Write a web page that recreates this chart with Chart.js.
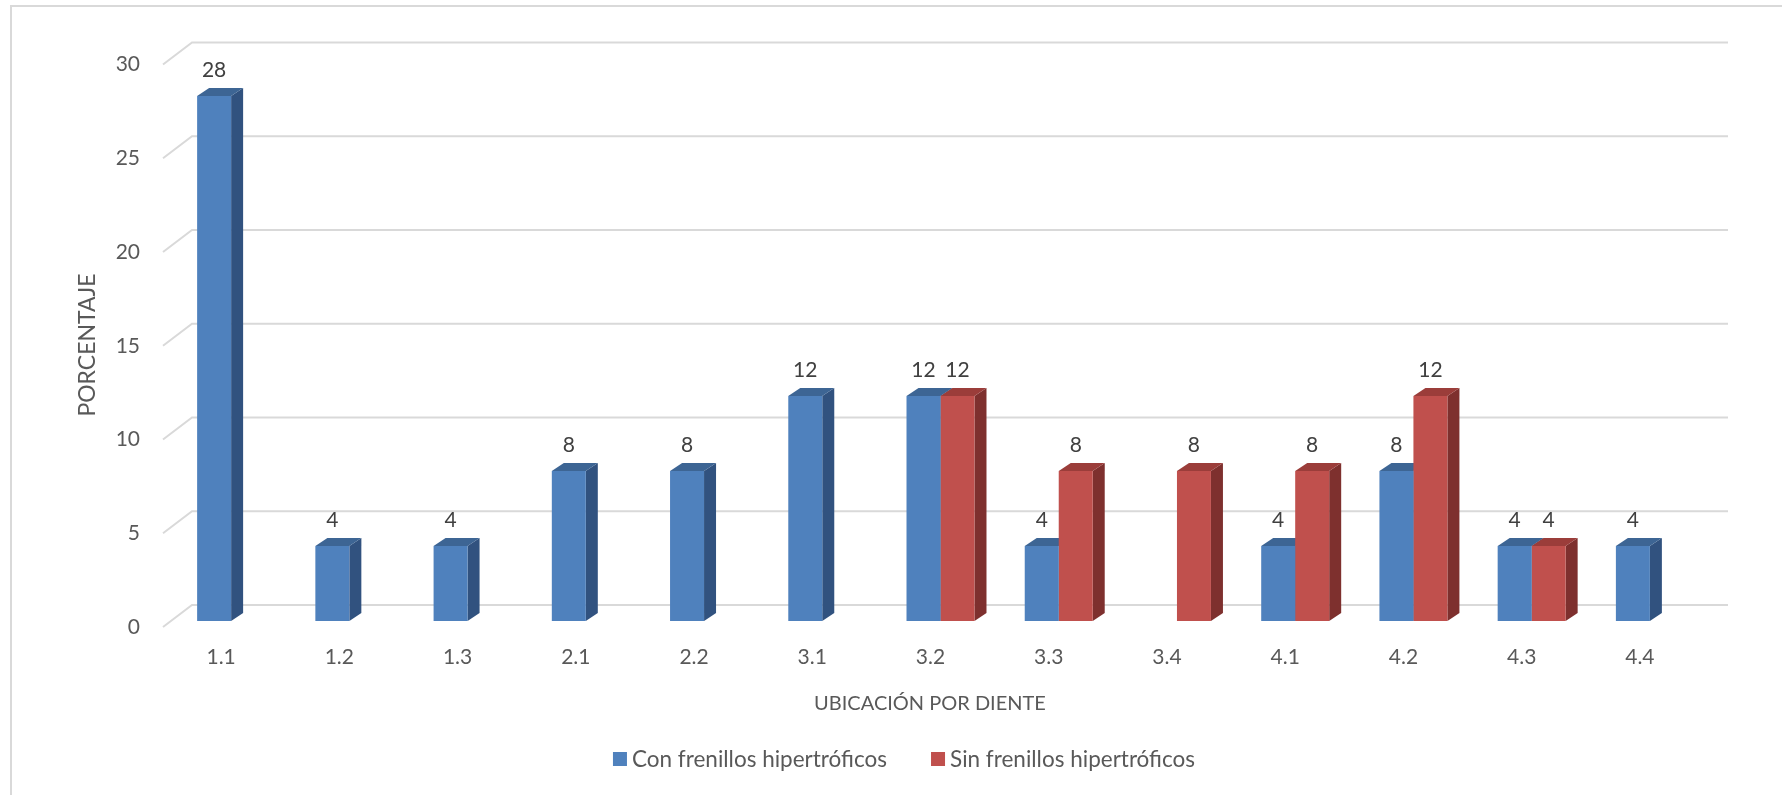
<!DOCTYPE html>
<html>
<head>
<meta charset="utf-8">
<script src="https://cdn.jsdelivr.net/npm/chart.js@4.4.1/dist/chart.umd.min.js"></script>
<style>
  html, body { margin: 0; padding: 0; background: #ffffff; }
  #wrap { width: 1782px; height: 795px; position: relative; }
</style>
</head>
<body>
<div id="wrap"><canvas id="c" width="1782" height="795"></canvas></div>
<script>
// Teeth locations and percentages per group
const categories = ['1.1', '1.2', '1.3', '2.1', '2.2', '3.1', '3.2', '3.3', '3.4', '4.1', '4.2', '4.3', '4.4'];
const conFrenillos = [28, 4, 4, 8, 8, 12, 12, 4, null, 4, 8, 4, 4];
const sinFrenillos = [null, null, null, null, null, null, 12, 8, 8, 8, 12, 4, null];
const yTickValues = [0, 5, 10, 15, 20, 25, 30];
const seriesNames = ['Con frenillos hipertróficos', 'Sin frenillos hipertróficos'];
const xTitle = 'UBICACIÓN POR DIENTE';
const yTitle = 'PORCENTAJE';

// Styling
const FONT = 'Lato, "Open Sans", sans-serif';
const TEXT_AXIS = '#595959';
const TEXT_LABEL = '#404040';
const GRID = '#D9D9D9';
const faces = [
  { front: '#4F81BD', side: '#31527F', top: '#3D6594' },
  { front: '#C0504D', side: '#7E302E', top: '#9B3D3A' }
];
const BAR_DEPTH = { dx: 12, dy: 8 };     // visible depth of each 3D bar
const WALL = { dx: 20, up: 16, frontX: 163, down: 6 }; // back wall / floor edge geometry

const threeD = {
  id: 'threeD',
  beforeDraw(chart) {
    const ctx = chart.ctx;
    ctx.save();
    ctx.strokeStyle = GRID;
    ctx.lineWidth = 2;
    ctx.beginPath();
    ctx.moveTo(11, chart.height);
    ctx.lineTo(11, 6);
    ctx.lineTo(chart.width, 6);
    ctx.stroke();
    ctx.restore();
  },
  beforeDatasetsDraw(chart) {
    const ctx = chart.ctx;
    const ys = chart.scales.y;
    const area = chart.chartArea;
    ctx.save();
    // back wall gridlines and their slanted ends on the side wall
    ctx.strokeStyle = GRID;
    ctx.lineWidth = 2;
    ys.ticks.forEach(t => {
      const y = ys.getPixelForValue(t.value);
      ctx.beginPath();
      ctx.moveTo(WALL.frontX, y + WALL.down);
      ctx.lineTo(area.left + WALL.dx, y - WALL.up);
      ctx.lineTo(area.right + WALL.dx - 1, y - WALL.up);
      ctx.stroke();
    });
    // side and top faces of the bars (front faces come from Chart.js)
    chart.data.datasets.forEach((ds, di) => {
      const meta = chart.getDatasetMeta(di);
      meta.data.forEach((el, i) => {
        if (ds.data[i] === null || ds.data[i] === undefined) return;
        const p = el.getProps(['x', 'y', 'base', 'width'], true);
        const l = p.x - p.width / 2, r = p.x + p.width / 2;
        const dx = BAR_DEPTH.dx, dy = BAR_DEPTH.dy;
        ctx.fillStyle = faces[di].side;
        ctx.beginPath();
        ctx.moveTo(r, p.y);
        ctx.lineTo(r + dx, p.y - dy);
        ctx.lineTo(r + dx, p.base - dy);
        ctx.lineTo(r, p.base);
        ctx.closePath();
        ctx.fill();
        ctx.fillStyle = faces[di].top;
        ctx.beginPath();
        ctx.moveTo(l, p.y);
        ctx.lineTo(l + dx, p.y - dy);
        ctx.lineTo(r + dx, p.y - dy);
        ctx.lineTo(r, p.y);
        ctx.closePath();
        ctx.fill();
      });
    });
    ctx.restore();
  },
  afterDatasetsDraw(chart) {
    const ctx = chart.ctx;
    ctx.save();
    ctx.font = '21px ' + FONT;
    ctx.fillStyle = TEXT_LABEL;
    ctx.textAlign = 'center';
    ctx.textBaseline = 'middle';
    chart.data.datasets.forEach((ds, di) => {
      const meta = chart.getDatasetMeta(di);
      meta.data.forEach((el, i) => {
        const v = ds.data[i];
        if (v === null || v === undefined) return;
        ctx.fillText(String(v), el.x, el.y - 26);
      });
    });
    ctx.restore();
  },
  afterDraw(chart) {
    const ctx = chart.ctx;
    ctx.save();
    ctx.fillStyle = TEXT_AXIS;
    ctx.textBaseline = 'middle';
    ctx.textAlign = 'center';
    // axis titles
    ctx.font = '20px ' + FONT;
    ctx.fillText(xTitle, 930, 704);
    ctx.save();
    ctx.translate(88, 345);
    ctx.rotate(-Math.PI / 2);
    ctx.font = '23px ' + FONT;
    ctx.fillText(yTitle, 0, 0);
    ctx.restore();
    // legend
    ctx.font = '22.5px ' + FONT;
    ctx.textAlign = 'left';
    const box = 14, gap = 5, spacing = 44;
    const widths = chart.data.datasets.map(d => ctx.measureText(d.label).width);
    const total = widths.reduce((s, w) => s + box + gap + w, 0) + spacing * (widths.length - 1);
    let x = 904 - total / 2;
    const ly = 759;
    chart.data.datasets.forEach((d, i) => {
      ctx.fillStyle = d.backgroundColor;
      ctx.fillRect(x, ly - box / 2, box, box);
      ctx.fillStyle = TEXT_AXIS;
      ctx.fillText(d.label, x + box + gap, ly + 1);
      x += box + gap + widths[i] + spacing;
    });
    ctx.restore();
  }
};

new Chart(document.getElementById('c'), {
  type: 'bar',
  data: {
    labels: categories,
    datasets: [
      { label: seriesNames[0], data: conFrenillos, backgroundColor: faces[0].front, borderWidth: 0 },
      { label: seriesNames[1], data: sinFrenillos, backgroundColor: faces[1].front, borderWidth: 0 }
    ]
  },
  options: {
    responsive: false,
    animation: false,
    devicePixelRatio: 1,
    layout: { padding: { left: 0, right: 73, top: 58.5, bottom: 0 } },
    datasets: { bar: { categoryPercentage: 0.575, barPercentage: 1 } },
    plugins: { legend: { display: false }, tooltip: { enabled: false } },
    scales: {
      x: {
        offset: true,
        grid: { display: false, drawTicks: false },
        border: { display: false },
        ticks: { color: TEXT_AXIS, font: { family: FONT, size: 21 }, padding: 24, labelOffset: -10, maxRotation: 0, autoSkip: false },
        afterFit(scale) { scale.height = 174; }
      },
      y: {
        min: 0,
        max: 30,
        grid: { display: false, drawTicks: false },
        border: { display: false },
        afterBuildTicks(scale) { scale.ticks = yTickValues.map(v => ({ value: v })); },
        ticks: { color: TEXT_AXIS, font: { family: FONT, size: 21 }, padding: 32, labelOffset: 6 },
        afterFit(scale) { scale.width = 172; }
      }
    }
  },
  plugins: [threeD]
});
</script>
</body>
</html>
